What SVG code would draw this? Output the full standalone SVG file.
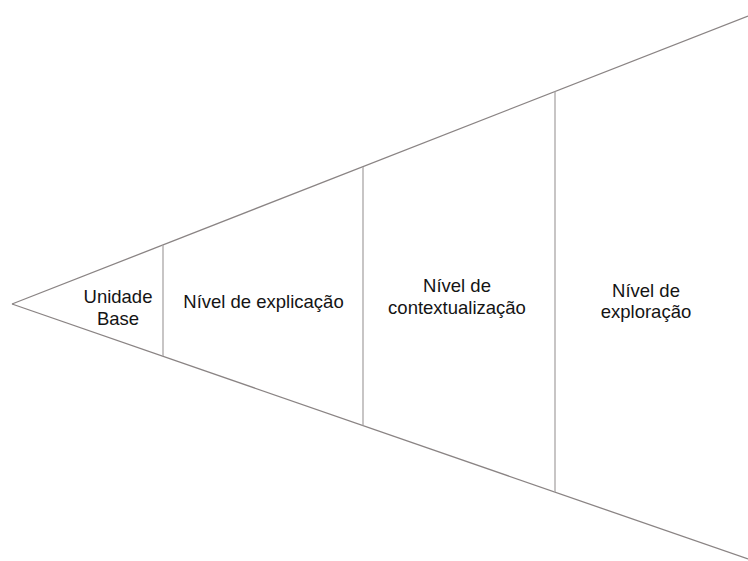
<svg xmlns="http://www.w3.org/2000/svg" width="748" height="561" viewBox="0 0 748 561">
<style>
.edge{stroke:#8a8484;stroke-width:1.3;fill:none}
.div{stroke:#aaa6a6;stroke-width:1.3;fill:none}
.lbl{font-family:"Liberation Sans",Arial,Helvetica,sans-serif;font-size:18.5px;fill:#141414;text-anchor:middle}
</style>
<rect width="748" height="561" fill="#ffffff"/>
<g id="connectors">
<line class="edge" x1="12" y1="304" x2="748" y2="16"/>
<line class="edge" x1="12" y1="304" x2="748" y2="559"/>
<line class="div" x1="163" y1="245" x2="163" y2="356"/>
<line class="div" x1="363" y1="167" x2="363" y2="425.5"/>
<line class="div" x1="555" y1="91.5" x2="555" y2="492"/>
</g>
<g id="unidade-base">
<text class="lbl" x="118" y="303">Unidade</text>
<text class="lbl" x="118" y="325">Base</text>
</g>
<g id="nivel-explicacao">
<text class="lbl" x="263.5" y="308">Nível de explicação</text>
</g>
<g id="nivel-contextualizacao">
<text class="lbl" x="457" y="292">Nível de</text>
<text class="lbl" x="457" y="314">contextualização</text>
</g>
<g id="nivel-exploracao">
<text class="lbl" x="646" y="297">Nível de</text>
<text class="lbl" x="646" y="318">exploração</text>
</g>
</svg>
